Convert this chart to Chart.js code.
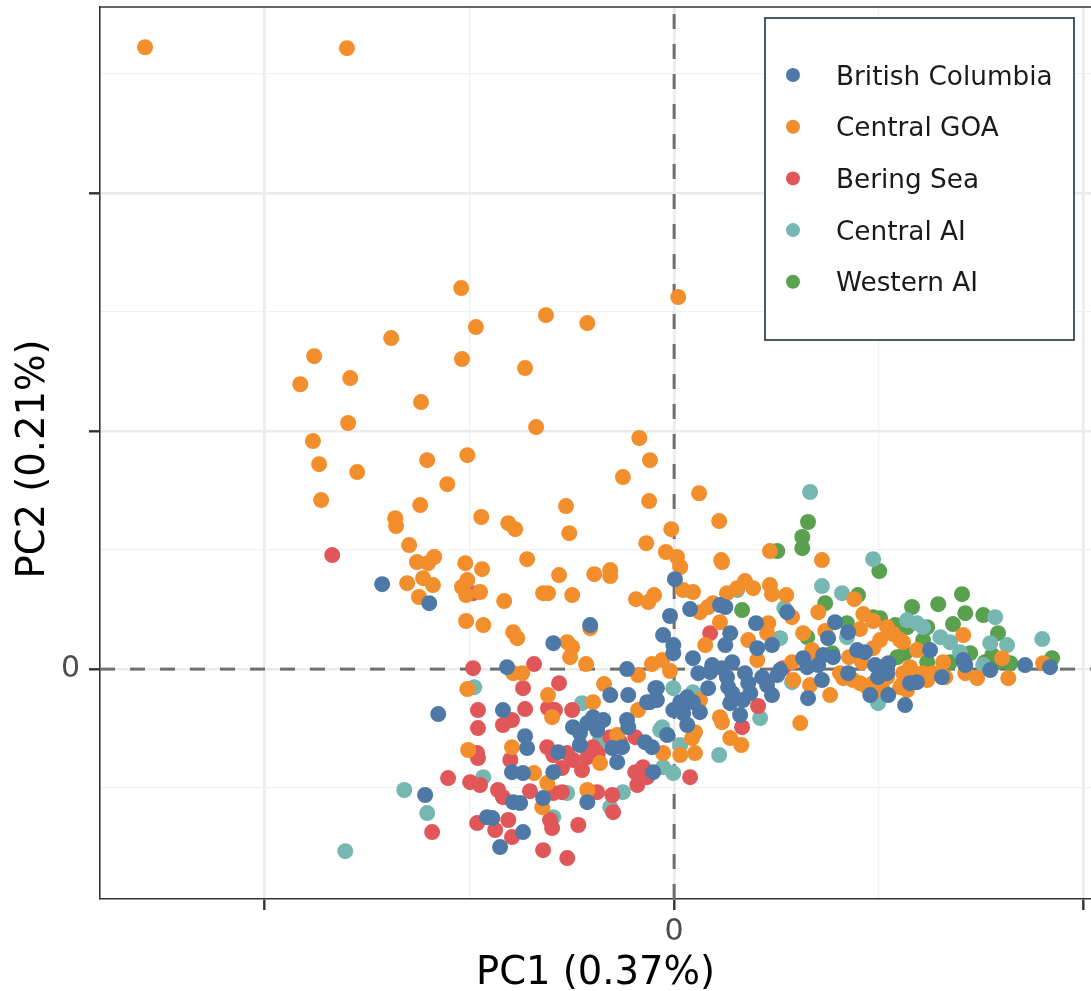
<!DOCTYPE html>
<html>
<head>
<meta charset="utf-8">
<title>PCA of samples by region</title>
<script src="https://cdn.jsdelivr.net/npm/chart.js@4.4.1/dist/chart.umd.min.js"></script>
<style>
  html, body { margin: 0; padding: 0; background: #ffffff; }
  canvas { display: block; }
</style>
</head>
<body>
<canvas id="pca" width="1091" height="991"></canvas>
<script>
// ---- data ---------------------------------------------------------------
const regions = ['British Columbia', 'Central GOA', 'Bering Sea', 'Central AI', 'Western AI'];
const regionColors = ['#4E79A7', '#F28E2B', '#E15759', '#76B7B2', '#59A14F'];
const pc1Title = 'PC1 (0.37%)';
const pc2Title = 'PC2 (0.21%)';

// tick positions (only the origin carries a label)
const xTickValues = [-0.1, -0.05, 0, 0.05, 0.1];
const yTickValues = [-0.05, 0, 0.05, 0.1, 0.15, 0.2, 0.25];
const xRange = [-0.1402, 0.1018];
const yRange = [-0.0966, 0.2782];

// [PC1, PC2] scores per sample
const britishColumbia = [
  [-0.0713,0.0357],[-0.0598,0.0277],[-0.0205,0.0185],[-0.0295,0.0109],[-0.0408,0.0008],[-0.0576,-0.0189],[-0.0418,-0.0172],[-0.0364,-0.0282],[-0.0359,-0.0332],[-0.0247,-0.0244],
  [-0.0230,-0.0269],[-0.0212,-0.0227],[-0.0198,-0.0202],[-0.0188,-0.0256],[-0.0173,-0.0214],[-0.0230,-0.0319],[-0.0115,-0.0214],[-0.0112,-0.0244],[-0.0151,-0.0332],[-0.0127,-0.0328],
  [-0.0139,-0.0391],[-0.0283,-0.0349],[-0.0396,-0.0433],[-0.0369,-0.0437],[-0.0295,-0.0433],[-0.0320,-0.0542],[-0.0212,-0.0559],[-0.0051,-0.0433],[-0.0393,-0.0559],[-0.0376,-0.0563],
  [-0.0457,-0.0622],[-0.0444,-0.0626],[-0.0369,-0.0685],[-0.0425,-0.0748],[-0.0608,-0.0529],[-0.0071,-0.0307],[-0.0054,-0.0328],[-0.0017,-0.0277],[-0.0115,0.0000],[-0.0156,-0.0109],
  [-0.0112,-0.0109],[-0.0066,-0.0139],[-0.0042,-0.0080],[-0.0042,-0.0130],[-0.0002,-0.0172],[0.0046,-0.0139],[0.0032,-0.0118],[0.0002,0.0378],[-0.0010,0.0223],[0.0039,0.0252],
  [0.0112,0.0269],[0.0125,0.0261],[-0.0027,0.0143],[-0.0002,0.0101],[-0.0002,0.0067],[0.0046,0.0046],[0.0093,0.0017],[0.0117,0.0004],[0.0142,0.0029],[0.0200,0.0193],
  [0.0137,0.0151],[0.0125,0.0101],[0.0239,0.0101],[0.0203,0.0088],[0.0393,0.0197],[0.0425,0.0155],[0.0376,0.0130],[0.0447,0.0080],[0.0466,0.0071],[0.0364,0.0059],
  [0.0388,0.0050],[0.0315,0.0046],[0.0625,0.0080],[0.0706,0.0038],[0.0711,0.0017],[0.0772,-0.0004],[0.0857,0.0017],[0.0918,0.0008],[0.0059,-0.0017],[0.0088,-0.0013],
  [0.0129,-0.0034],[0.0132,-0.0076],[0.0173,-0.0017],[0.0181,-0.0059],[0.0186,-0.0101],[0.0215,-0.0034],[0.0227,-0.0067],[0.0239,-0.0109],[0.0252,-0.0025],[0.0259,-0.0004],
  [0.0325,0.0008],[0.0352,0.0017],[0.0361,-0.0046],[0.0327,-0.0122],[0.0425,-0.0017],[0.0491,0.0017],[0.0510,0.0008],[0.0523,0.0025],[0.0498,-0.0034],[0.0520,-0.0017],
  [0.0576,-0.0059],[0.0593,-0.0055],[0.0654,-0.0034],[0.0564,-0.0151],[0.0523,-0.0109],[0.0479,-0.0109],[0.0083,-0.0080],[0.0142,-0.0101],[0.0168,-0.0130],[0.0161,-0.0193],
  [-0.0046,-0.0080],[-0.0059,-0.0139],[0.0063,-0.0181],[0.0015,-0.0139],[0.0022,-0.0185],[0.0032,-0.0235],[0.0144,-0.0118],[0.0137,-0.0143],[0.0276,0.0239]
];

const centralGOA = [
  [-0.1292,0.2613],[-0.0799,0.2609],[-0.0520,0.1601],[0.0010,0.1563],[-0.0313,0.1487],[-0.0212,0.1454],[-0.0484,0.1437],[-0.0691,0.1391],[-0.0879,0.1315],[-0.0518,0.1303],
  [-0.0364,0.1265],[-0.0791,0.1223],[-0.0913,0.1197],[-0.0618,0.1122],[-0.0796,0.1034],[-0.0337,0.1017],[-0.0085,0.0971],[-0.0882,0.0958],[-0.0505,0.0899],[-0.0603,0.0878],
  [-0.0059,0.0878],[-0.0867,0.0861],[-0.0774,0.0828],[-0.0125,0.0807],[-0.0554,0.0777],[0.0061,0.0739],[-0.0862,0.0710],[-0.0620,0.0689],[-0.0061,0.0706],[-0.0264,0.0685],
  [-0.0681,0.0634],[-0.0679,0.0601],[-0.0471,0.0639],[-0.0405,0.0613],[-0.0388,0.0588],[-0.0256,0.0571],[-0.0007,0.0588],[0.0110,0.0622],[-0.0068,0.0529],[-0.0020,0.0492],
  [0.0007,0.0471],[0.0015,0.0429],[-0.0359,0.0462],[-0.0647,0.0521],[-0.0586,0.0471],[-0.0628,0.0450],[-0.0601,0.0445],[-0.0510,0.0445],[-0.0469,0.0420],[-0.0281,0.0395],
  [-0.0195,0.0399],[-0.0156,0.0416],[-0.0156,0.0391],[-0.0652,0.0361],[-0.0613,0.0382],[-0.0589,0.0353],[-0.0623,0.0303],[-0.0518,0.0345],[-0.0505,0.0374],[-0.0474,0.0324],
  [-0.0508,0.0311],[-0.0415,0.0286],[-0.0320,0.0319],[-0.0308,0.0319],[-0.0249,0.0311],[-0.0093,0.0294],[-0.0063,0.0282],[-0.0049,0.0311],[-0.0508,0.0202],[-0.0466,0.0185],
  [-0.0393,0.0155],[-0.0383,0.0130],[-0.0261,0.0113],[-0.0249,0.0092],[-0.0254,0.0050],[-0.0215,0.0021],[-0.0205,0.0172],[-0.0393,-0.0017],[-0.0371,-0.0017],[-0.0505,-0.0084],
  [-0.0308,-0.0109],[-0.0298,-0.0202],[-0.0171,-0.0063],[-0.0198,-0.0139],[-0.0054,0.0021],[-0.0029,0.0038],[-0.0010,-0.0008],[-0.0088,-0.0025],[-0.0396,-0.0328],[-0.0503,-0.0340],
  [-0.0342,-0.0437],[-0.0310,-0.0479],[-0.0322,-0.0580],[-0.0212,-0.0508],[-0.0181,-0.0395],[-0.0139,-0.0277],[-0.0027,-0.0353],[0.0015,-0.0361],[0.0044,-0.0290],[0.0051,-0.0353],
  [-0.0088,-0.0172],[0.0115,0.0458],[0.0234,0.0496],[0.0361,0.0458],[0.0173,0.0370],[0.0154,0.0340],[0.0193,0.0340],[0.0234,0.0353],[0.0239,0.0315],[0.0274,0.0311],
  [0.0022,0.0332],[0.0046,0.0324],[0.0063,0.0239],[0.0083,0.0261],[0.0095,0.0277],[0.0112,0.0197],[0.0230,0.0193],[0.0288,0.0218],[0.0352,0.0239],[0.0440,0.0294],
  [0.0462,0.0231],[0.0486,0.0202],[0.0520,0.0176],[0.0535,0.0147],[0.0552,0.0122],[0.0315,0.0151],[0.0369,0.0160],[0.0454,0.0168],[0.0503,0.0122],[0.0559,0.0113],
  [0.0706,0.0143],[0.0076,0.0101],[0.0181,0.0122],[0.0227,0.0151],[0.0337,0.0080],[0.0339,0.0025],[0.0427,0.0050],[0.0459,0.0029],[0.0486,0.0088],[0.0593,0.0080],
  [0.0801,0.0046],[0.0901,0.0025],[0.0203,0.0038],[0.0288,0.0029],[0.0291,-0.0046],[0.0405,-0.0017],[0.0437,-0.0046],[0.0486,-0.0059],[0.0520,-0.0034],[0.0559,-0.0017],
  [0.0584,-0.0013],[0.0608,-0.0017],[0.0618,-0.0046],[0.0711,-0.0017],[0.0740,-0.0038],[0.0816,-0.0038],[0.0332,-0.0067],[0.0381,-0.0109],[0.0471,-0.0076],[0.0486,-0.0097],
  [0.0552,-0.0076],[0.0569,-0.0088],[0.0308,-0.0227],[0.0112,-0.0202],[0.0063,-0.0130],[0.0117,-0.0223],[0.0051,-0.0265],[0.0137,-0.0290],[0.0129,0.0319],[0.0117,0.0450],
  [0.0413,-0.0038],[0.0454,-0.0059],[0.0496,-0.0055],[0.0508,-0.0080],[0.0657,0.0029],[0.0576,0.0008],[0.0632,-0.0017],[0.0662,-0.0034],[0.0559,-0.0059],[0.0164,-0.0319]
];

const beringSea = [
  [-0.0835,0.0479],[-0.0491,0.0319],[-0.0491,0.0004],[-0.0342,0.0021],[-0.0369,-0.0080],[-0.0281,-0.0059],[-0.0479,-0.0172],[-0.0479,-0.0248],[-0.0418,-0.0235],[-0.0396,-0.0214],
  [-0.0364,-0.0168],[-0.0308,-0.0164],[-0.0291,-0.0172],[-0.0249,-0.0172],[-0.0481,-0.0353],[-0.0479,-0.0374],[-0.0400,-0.0382],[-0.0310,-0.0328],[-0.0295,-0.0361],[-0.0198,-0.0328],
  [-0.0186,-0.0353],[-0.0212,-0.0370],[-0.0261,-0.0353],[-0.0247,-0.0382],[-0.0156,-0.0286],[-0.0132,-0.0307],[-0.0095,-0.0286],[-0.0095,-0.0433],[-0.0076,-0.0412],[0.0039,-0.0454],
  [-0.0552,-0.0458],[-0.0498,-0.0475],[-0.0474,-0.0487],[-0.0430,-0.0508],[-0.0418,-0.0538],[-0.0352,-0.0513],[-0.0295,-0.0521],[-0.0274,-0.0517],[-0.0188,-0.0517],[-0.0234,-0.0655],
  [-0.0151,-0.0529],[-0.0149,-0.0601],[-0.0481,-0.0647],[-0.0437,-0.0676],[-0.0396,-0.0706],[-0.0303,-0.0634],[-0.0298,-0.0668],[-0.0591,-0.0685],[-0.0320,-0.0761],[-0.0261,-0.0794],
  [-0.0090,-0.0487],[-0.0066,-0.0454],[-0.0405,-0.0634],[0.0088,0.0151],[0.0266,0.0004],[0.0205,-0.0155],[0.0166,-0.0244],[-0.0274,-0.0416],[-0.0225,-0.0424]
];

const centralAI = [
  [-0.0803,-0.0765],[-0.0659,-0.0508],[-0.0603,-0.0605],[-0.0488,-0.0076],[-0.0225,-0.0143],[-0.0181,-0.0298],[-0.0466,-0.0454],[-0.0261,-0.0521],[-0.0295,-0.0622],[-0.0156,-0.0580],
  [-0.0125,-0.0517],[-0.0027,-0.0412],[-0.0002,-0.0437],[-0.0002,-0.0080],[0.0046,-0.0097],[-0.0034,-0.0256],[0.0332,0.0744],[0.0486,0.0462],[0.0361,0.0349],[0.0410,0.0319],
  [0.0269,0.0256],[0.0784,0.0218],[0.0569,0.0206],[0.0593,0.0193],[0.0608,0.0176],[0.0650,0.0134],[0.0674,0.0113],[0.0772,0.0109],[0.0813,0.0101],[0.0899,0.0126],
  [0.0259,0.0130],[0.0498,-0.0143],[0.0210,-0.0206],[-0.0029,-0.0244],[0.0288,-0.0055],[0.0154,0.0332],[0.0422,0.0134],[0.0698,0.0071],[0.0755,0.0017],[0.0110,-0.0361],
  [0.0015,-0.0319]
];

const westernAI = [
  [0.0327,0.0618],[0.0313,0.0555],[0.0313,0.0508],[0.0252,0.0496],[0.0501,0.0412],[0.0449,0.0311],[0.0369,0.0277],[0.0166,0.0248],[0.0581,0.0261],[0.0645,0.0273],
  [0.0703,0.0315],[0.0711,0.0235],[0.0755,0.0227],[0.0681,0.0189],[0.0791,0.0151],[0.0422,0.0193],[0.0486,0.0218],[0.0503,0.0214],[0.0540,0.0185],[0.0618,0.0176],
  [0.0325,0.0134],[0.0545,0.0050],[0.0723,0.0067],[0.0674,0.0029],[0.0759,0.0029],[0.0791,0.0029],[0.0821,0.0025],[0.0923,0.0046],[0.0386,0.0067],[0.0618,0.0029],
  [0.0608,0.0122],[0.0564,0.0067],[0.0777,0.0059],[0.0569,0.0176]
];

const regionScores = [britishColumbia, centralGOA, beringSea, centralAI, westernAI];

// ---- chart --------------------------------------------------------------
const FAMILY = "'DejaVu Sans', 'Noto Sans', sans-serif";
Chart.defaults.font.family = FAMILY;

const isMajor = v => Math.abs(v * 10 - Math.round(v * 10)) < 1e-6;

// dashed reference lines through the origin plus the top panel edge
const originLines = {
  id: 'originLines',
  beforeDatasetsDraw(chart) {
    const { ctx, chartArea: a, scales: { x, y } } = chart;
    const x0 = x.getPixelForValue(0);
    const y0 = y.getPixelForValue(0);
    ctx.save();
    ctx.strokeStyle = '#6F6F6F';
    ctx.lineWidth = 3;
    ctx.setLineDash([15, 15]);
    ctx.beginPath();
    ctx.moveTo(a.left, y0);
    ctx.lineTo(a.right, y0);
    ctx.stroke();
    ctx.beginPath();
    ctx.moveTo(x0, a.bottom);
    ctx.lineTo(x0, a.top);
    ctx.stroke();
    ctx.restore();
  },
  afterDatasetsDraw(chart) {
    const { ctx, chartArea: a } = chart;
    ctx.save();
    ctx.strokeStyle = '#333333';
    ctx.lineWidth = 1.6;
    ctx.beginPath();
    ctx.moveTo(a.left - 0.8, a.top);
    ctx.lineTo(a.right, a.top);
    ctx.stroke();
    ctx.restore();
  }
};

// vertical axis title, centred a little below the panel middle
const pc2Label = {
  id: 'pc2Label',
  afterDraw(chart) {
    const { ctx, chartArea: a } = chart;
    ctx.save();
    ctx.translate(34, (a.top + a.bottom) / 2 + 6);
    ctx.rotate(-Math.PI / 2);
    ctx.font = '38.5px ' + FAMILY;
    ctx.fillStyle = '#000000';
    ctx.textAlign = 'center';
    ctx.textBaseline = 'middle';
    ctx.fillText(pc2Title, 0, 0);
    ctx.restore();
  }
};

// boxed legend inside the top-right corner of the panel
const insetLegend = {
  id: 'insetLegend',
  afterDraw(chart) {
    const { ctx, chartArea: a } = chart;
    const boxW = 309, boxH = 322;
    const left = a.right - 17 - boxW;
    const top = a.top + 11;
    ctx.save();
    ctx.fillStyle = '#ffffff';
    ctx.fillRect(left, top, boxW, boxH);
    ctx.strokeStyle = '#2C3C4E';
    ctx.lineWidth = 1.7;
    ctx.strokeRect(left, top, boxW, boxH);
    ctx.font = '26.3px ' + FAMILY;
    ctx.textAlign = 'left';
    ctx.textBaseline = 'alphabetic';
    chart.data.datasets.forEach((ds, i) => {
      const cy = top + 57 + i * 51.7;
      ctx.beginPath();
      ctx.fillStyle = ds.backgroundColor;
      ctx.arc(left + 28, cy, 7, 0, Math.PI * 2);
      ctx.fill();
      ctx.fillStyle = '#1A1A1A';
      ctx.fillText(ds.label, left + 71, cy + 9.5);
    });
    ctx.restore();
  }
};

const datasets = regions.map((name, i) => ({
  label: name,
  data: regionScores[i].map(([x, y]) => ({ x, y })),
  backgroundColor: regionColors[i],
  borderColor: regionColors[i],
  borderWidth: 0,
  pointRadius: 8,
  pointHoverRadius: 8
}));

const gridFor = () => ({
  color: c => isMajor(c.tick.value) ? '#EBEBEB' : '#F1F1F1',
  lineWidth: c => isMajor(c.tick.value) ? 2.6 : 1.3,
  tickLength: 11,
  tickColor: c => isMajor(c.tick.value) ? '#333333' : 'rgba(0,0,0,0)',
  tickWidth: 2.4
});

new Chart(document.getElementById('pca'), {
  type: 'scatter',
  data: { datasets },
  plugins: [originLines, insetLegend, pc2Label],
  options: {
    responsive: false,
    animation: false,
    devicePixelRatio: 1,
    layout: { autoPadding: false, padding: { top: 7, right: 0, bottom: 0, left: 0 } },
    plugins: { legend: { display: false }, tooltip: { enabled: false } },
    scales: {
      x: {
        type: 'linear',
        min: xRange[0],
        max: xRange[1],
        afterBuildTicks: s => { s.ticks = xTickValues.map(v => ({ value: v })); },
        afterFit: s => { s.height = 92; s.paddingLeft = 0; s.paddingRight = 0; },
        ticks: {
          autoSkip: false, maxRotation: 0, padding: 4,
          color: '#4D4D4D', font: { size: 30 },
          callback: v => (Math.abs(v) < 1e-9 ? '0' : '')
        },
        grid: gridFor(),
        border: { display: true, color: '#333333', width: 1.6 },
        title: {
          display: true, text: pc1Title, color: '#000000',
          font: { size: 38.5, lineHeight: 0.8 }, padding: { top: 0, bottom: 2 }
        }
      },
      y: {
        type: 'linear',
        min: yRange[0],
        max: yRange[1],
        afterBuildTicks: s => { s.ticks = yTickValues.map(v => ({ value: v })); },
        afterFit: s => { s.width = 100; s.paddingTop = 0; s.paddingBottom = 0; },
        ticks: {
          autoSkip: false, padding: 9,
          color: '#4D4D4D', font: { size: 30 },
          callback: v => (Math.abs(v) < 1e-9 ? '0' : '')
        },
        grid: gridFor(),
        border: { display: true, color: '#333333', width: 1.6 },
        title: { display: false }
      }
    }
  }
});
</script>
</body>
</html>
